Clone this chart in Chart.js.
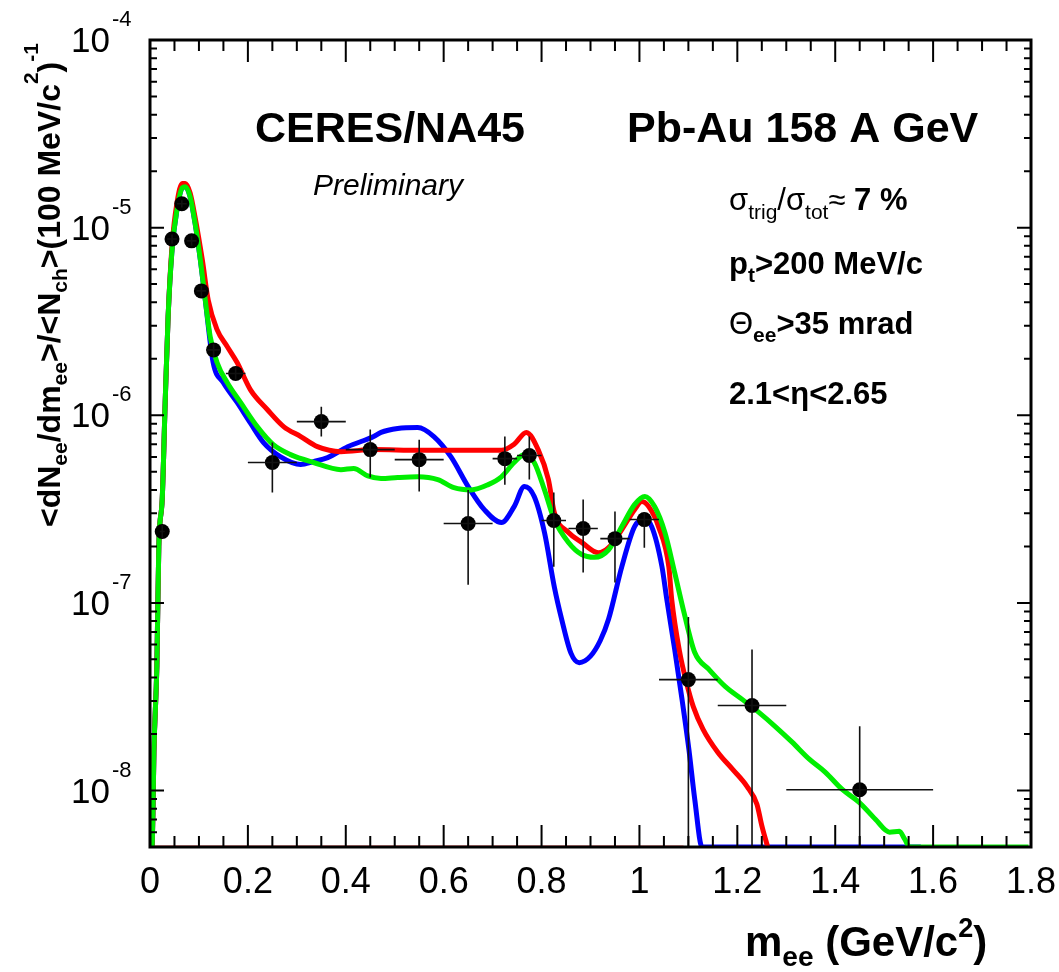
<!DOCTYPE html>
<html>
<head>
<meta charset="utf-8">
<script src="https://cdn.jsdelivr.net/npm/chart.js@4"></script>
<style>
  html, body { margin: 0; padding: 0; background: #fff; }
  #wrap { width: 1059px; height: 972px; }
</style>
</head>
<body>
<div id="wrap"><canvas id="dielectronChart" width="1059" height="972"></canvas></div>
<script>
// CERES/NA45 dielectron mass spectrum, Pb-Au 158 A GeV

const FONT = "'Liberation Sans', Arial, Helvetica, sans-serif";
const Y_MIN = 5e-9;
const Y_MAX = 1e-4;

// data points
const massBins = [0.025, 0.045, 0.065, 0.085, 0.105, 0.13, 0.175, 0.25, 0.35, 0.45, 0.55, 0.65, 0.725, 0.775, 0.825, 0.885, 0.95, 1.01, 1.10, 1.23, 1.45];
const massHalfWidth = [0.005, 0.01, 0.01, 0.01, 0.01, 0.015, 0.02, 0.05, 0.05, 0.05, 0.05, 0.05, 0.025, 0.025, 0.025, 0.03, 0.03, 0.03, 0.06, 0.07, 0.15];
const yieldData = [2.4e-7, 8.7e-6, 1.34e-5, 8.5e-6, 4.6e-6, 2.23e-6, 1.67e-6, 5.6e-7, 9.25e-7, 6.56e-7, 5.8e-7, 2.65e-7, 5.87e-7, 6.1e-7, 2.75e-7, 2.49e-7, 2.2e-7, 2.78e-7, 3.9e-8, 2.84e-8, 1.01e-8];
const yieldHigh = [2.6e-7, 9.2e-6, 1.4e-5, 9.0e-6, 4.9e-6, 2.4e-6, 1.8e-6, 7.15e-7, 1.11e-6, 8.4e-7, 7.4e-7, 4.0e-7, 7.7e-7, 7.7e-7, 3.87e-7, 3.56e-7, 3.07e-7, 3.03e-7, 8.4e-8, 5.65e-8, 2.2e-8];
const yieldLow = [2.2e-7, 8.2e-6, 1.28e-5, 8.0e-6, 4.3e-6, 2.05e-6, 1.55e-6, 3.87e-7, 7.7e-7, 4.66e-7, 3.92e-7, 1.25e-7, 4.26e-7, 4.54e-7, 1.56e-7, 1.45e-7, 1.285e-7, 1.97e-7, 5e-9, 5e-9, 5e-9];

// green curve
const greenMass = [0, 0.004, 0.006, 0.008, 0.014, 0.018, 0.025, 0.031, 0.037, 0.045, 0.055, 0.066, 0.072, 0.082, 0.092, 0.103, 0.113, 0.123, 0.137, 0.158, 0.185, 0.219, 0.252, 0.287, 0.334, 0.39, 0.416, 0.445, 0.472, 0.506, 0.547, 0.588, 0.621, 0.656, 0.691, 0.718, 0.744, 0.765, 0.785, 0.806, 0.826, 0.855, 0.882, 0.908, 0.937, 0.964, 0.99, 1.011, 1.031, 1.052, 1.072, 1.091, 1.113, 1.142, 1.175, 1.21, 1.244, 1.277, 1.312, 1.347, 1.38, 1.415, 1.449, 1.482, 1.511, 1.531, 1.542, 1.552, 1.575, 1.795];
const greenYield = [5e-9, 5e-9, 7.65e-9, 1.6e-8, 4.6e-8, 2e-7, 3.6e-7, 1.17e-6, 3.35e-6, 7.6e-6, 1.24e-5, 1.63e-5, 1.65e-5, 1.46e-5, 1.06e-5, 6.7e-6, 4.1e-6, 2.62e-6, 1.91e-6, 1.49e-6, 1.17e-6, 8.7e-7, 6.97e-7, 6.17e-7, 5.6e-7, 5.13e-7, 5.2e-7, 4.75e-7, 4.6e-7, 4.66e-7, 4.7e-7, 4.54e-7, 4.11e-7, 4.0e-7, 4.27e-7, 4.7e-7, 5.6e-7, 6.17e-7, 5.6e-7, 4.0e-7, 2.78e-7, 2.1e-7, 1.81e-7, 1.75e-7, 1.92e-7, 2.55e-7, 3.34e-7, 3.69e-7, 3.26e-7, 2.37e-7, 1.45e-7, 8.9e-8, 5.44e-8, 4.42e-8, 3.59e-8, 3.06e-8, 2.61e-8, 2.2e-8, 1.81e-8, 1.47e-8, 1.25e-8, 1.01e-8, 8.65e-9, 7.03e-9, 6.0e-9, 6.07e-9, 5.5e-9, 5e-9, 5e-9, 5e-9];

// red curve
const redMass = [0, 0.004, 0.006, 0.008, 0.014, 0.018, 0.025, 0.031, 0.037, 0.045, 0.055, 0.066, 0.072, 0.082, 0.092, 0.107, 0.119, 0.137, 0.158, 0.178, 0.205, 0.24, 0.273, 0.308, 0.342, 0.39, 0.457, 0.55, 0.65, 0.718, 0.744, 0.769, 0.793, 0.814, 0.826, 0.855, 0.882, 0.916, 0.937, 0.964, 0.99, 1.005, 1.019, 1.039, 1.06, 1.066, 1.082, 1.096, 1.11, 1.13, 1.16, 1.19, 1.22, 1.24, 1.25, 1.262];
const redYield = [5e-9, 5e-9, 7.65e-9, 1.6e-8, 4.6e-8, 2e-7, 3.6e-7, 1.17e-6, 3.35e-6, 8.0e-6, 1.35e-5, 1.72e-5, 1.72e-5, 1.53e-5, 1.14e-5, 6.7e-6, 4.1e-6, 2.86e-6, 2.32e-6, 1.91e-6, 1.37e-6, 1.07e-6, 8.7e-7, 7.7e-7, 6.8e-7, 6.4e-7, 6.56e-7, 6.5e-7, 6.5e-7, 6.5e-7, 7.0e-7, 8.1e-7, 6.56e-7, 4.54e-7, 3.03e-7, 2.37e-7, 2.1e-7, 1.85e-7, 1.97e-7, 2.46e-7, 3.14e-7, 3.47e-7, 3.26e-7, 2.55e-7, 1.56e-7, 1.04e-7, 5.5e-8, 3.77e-8, 2.8e-8, 2.12e-8, 1.6e-8, 1.3e-8, 1.05e-8, 8.45e-9, 6.5e-9, 5e-9];

// blue curve
const blueMass = [0, 0.004, 0.006, 0.008, 0.014, 0.018, 0.025, 0.031, 0.037, 0.045, 0.055, 0.066, 0.072, 0.082, 0.092, 0.103, 0.113, 0.129, 0.15, 0.178, 0.205, 0.232, 0.267, 0.308, 0.334, 0.363, 0.404, 0.457, 0.472, 0.506, 0.547, 0.58, 0.615, 0.65, 0.683, 0.718, 0.744, 0.765, 0.785, 0.806, 0.826, 0.841, 0.86, 0.877, 0.9, 0.92, 0.937, 0.964, 0.99, 1.009, 1.025, 1.046, 1.056, 1.072, 1.087, 1.101, 1.113, 1.128, 1.575];
const blueYield = [5e-9, 5e-9, 7.65e-9, 1.6e-8, 4.6e-8, 2e-7, 3.6e-7, 1.17e-6, 3.35e-6, 7.6e-6, 1.24e-5, 1.63e-5, 1.65e-5, 1.46e-5, 1.06e-5, 6.7e-6, 4.1e-6, 1.91e-6, 1.49e-6, 1.17e-6, 9.1e-7, 7.15e-7, 6.0e-7, 5.46e-7, 5.66e-7, 5.95e-7, 6.8e-7, 7.7e-7, 8.1e-7, 8.5e-7, 8.6e-7, 7.7e-7, 6.0e-7, 4.17e-7, 3.14e-7, 2.68e-7, 3.26e-7, 4.17e-7, 3.69e-7, 2.37e-7, 1.22e-7, 8.2e-8, 5.4e-8, 4.8e-8, 5.2e-8, 6.3e-8, 8.2e-8, 1.56e-7, 2.55e-7, 2.78e-7, 2.55e-7, 1.56e-7, 1.04e-7, 5.65e-8, 3.06e-8, 1.66e-8, 8.97e-9, 5e-9, 5e-9];

// faint red line lying on the lower edge
const redFloorMass = [0, 1.09];
const redFloorYield = [5e-9, 5e-9];

const yDecades = [-4, -5, -6, -7, -8];

function toPoints(xs, ys) {
    return xs.map((x, i) => ({ x: x, y: ys[i] }));
}

function drawParts(ctx, x, y, parts) {
    let cx = x;
    parts.forEach(p => {
        ctx.font = (p.style || '') + ' ' + (p.weight || 'bold') + ' ' + p.size + 'px ' + FONT;
        ctx.fillText(p.text, cx, y + (p.dy || 0));
        cx += ctx.measureText(p.text).width;
    });
    return cx;
}

const rootFrame = {
    id: 'rootFrame',
    afterDatasetsDraw(chart) {
        const ctx = chart.ctx;
        const xs = chart.scales.x, ys = chart.scales.y;
        ctx.save();
        ctx.strokeStyle = '#111';
        ctx.lineWidth = 1.6;
        ctx.beginPath();
        massBins.forEach((m, i) => {
            const px = xs.getPixelForValue(m);
            const py = ys.getPixelForValue(yieldData[i]);
            ctx.moveTo(xs.getPixelForValue(m - massHalfWidth[i]), py);
            ctx.lineTo(xs.getPixelForValue(m + massHalfWidth[i]), py);
            ctx.moveTo(px, ys.getPixelForValue(yieldHigh[i]));
            ctx.lineTo(px, ys.getPixelForValue(yieldLow[i]));
        });
        ctx.stroke();
        ctx.restore();
    },
    afterDraw(chart) {
        const ctx = chart.ctx;
        const a = chart.chartArea;
        const xs = chart.scales.x, ys = chart.scales.y;
        ctx.save();
        ctx.fillStyle = '#000';
        ctx.strokeStyle = '#000';

        // ticks pointing inwards on all four sides
        ctx.lineWidth = 2;
        ctx.beginPath();
        for (let i = 0; i <= 36; i++) {
            const px = xs.getPixelForValue(i * 0.05);
            const len = i % 4 === 0 ? 22 : 11;
            ctx.moveTo(px, a.bottom); ctx.lineTo(px, a.bottom - len);
            ctx.moveTo(px, a.top); ctx.lineTo(px, a.top + len);
        }
        for (let e = -9; e <= -5; e++) {
            for (let k = 1; k <= 9; k++) {
                const v = k * Math.pow(10, e);
                if (v < Y_MIN * 0.999 || v > Y_MAX * 1.001) continue;
                const py = ys.getPixelForValue(v);
                const len = k === 1 ? 14 : 7;
                ctx.moveTo(a.left, py); ctx.lineTo(a.left + len, py);
                ctx.moveTo(a.right, py); ctx.lineTo(a.right - len, py);
            }
        }
        ctx.stroke();

        // frame
        ctx.lineWidth = 3;
        ctx.strokeRect(a.left, a.top, a.right - a.left, a.bottom - a.top);

        // y tick labels 10^n
        yDecades.forEach(e => {
            const py = ys.getPixelForValue(Math.pow(10, e));
            ctx.textBaseline = 'alphabetic';
            ctx.textAlign = 'right';
            ctx.font = 'normal 35px ' + FONT;
            ctx.fillText('10', 110, py + 12);
            ctx.textAlign = 'left';
            ctx.font = 'normal 22px ' + FONT;
            ctx.fillText('-' + Math.abs(e), 112, py - 14);
        });

        ctx.textAlign = 'left';
        ctx.textBaseline = 'alphabetic';

        // header texts
        drawParts(ctx, 255, 142, [{ text: 'CERES/NA45', size: 43 }]);
        drawParts(ctx, 627, 142, [{ text: 'Pb-Au 158 A GeV', size: 43 }]);
        drawParts(ctx, 313, 195, [{ text: 'Preliminary', size: 30, weight: 'normal', style: 'italic' }]);

        // cuts
        drawParts(ctx, 729, 210, [
            { text: 'σ', size: 31, weight: 'normal' },
            { text: 'trig', size: 21, weight: 'normal', dy: 9 },
            { text: '/σ', size: 31, weight: 'normal' },
            { text: 'tot', size: 21, weight: 'normal', dy: 9 },
            { text: '≈', size: 31, weight: 'normal' },
            { text: ' 7 %', size: 31 }
        ]);
        drawParts(ctx, 729, 274, [
            { text: 'p', size: 31 },
            { text: 't', size: 21, dy: 8 },
            { text: '>200 MeV/c', size: 31 }
        ]);
        drawParts(ctx, 729, 334, [
            { text: 'Θ', size: 31, weight: 'normal' },
            { text: 'ee', size: 21, dy: 8 },
            { text: '>35 mrad', size: 31 }
        ]);
        drawParts(ctx, 729, 404, [{ text: '2.1<η<2.65', size: 31 }]);

        // x title
        drawParts(ctx, 745, 956, [
            { text: 'm', size: 42 },
            { text: 'ee', size: 28, dy: 10 },
            { text: ' (GeV/c', size: 42 },
            { text: '2', size: 27, dy: -19 },
            { text: ')', size: 42 }
        ]);

        // y title, rotated
        ctx.save();
        ctx.translate(60, 527);
        ctx.rotate(-Math.PI / 2);
        drawParts(ctx, 0, 0, [
            { text: '<dN', size: 32 },
            { text: 'ee', size: 21, dy: 7 },
            { text: '/dm', size: 32 },
            { text: 'ee', size: 21, dy: 7 },
            { text: '>/<N', size: 32 },
            { text: 'ch', size: 21, dy: 7 },
            { text: '>(100 MeV/c', size: 32 },
            { text: '2', size: 21, dy: -22 },
            { text: ')', size: 32 },
            { text: '-1', size: 21, dy: -22 }
        ]);
        ctx.restore();

        ctx.restore();
    }
};

const curveStyle = { pointRadius: 0, borderWidth: 5, fill: false, cubicInterpolationMode: 'monotone' };

new Chart(document.getElementById('dielectronChart').getContext('2d'), {
    type: 'line',
    data: {
        datasets: [
            {
                label: 'data',
                data: toPoints(massBins, yieldData),
                showLine: false,
                pointRadius: 7.5,
                pointBackgroundColor: '#000',
                pointBorderColor: '#000',
                pointBorderWidth: 0,
                order: 0
            },
            Object.assign({ label: 'green', data: toPoints(greenMass, greenYield), borderColor: '#00ee00', order: 1 }, curveStyle),
            Object.assign({ label: 'red', data: toPoints(redMass, redYield), borderColor: '#ff0000', order: 2 }, curveStyle),
            Object.assign({ label: 'blue', data: toPoints(blueMass, blueYield), borderColor: '#0000ff', order: 3 }, curveStyle),
            { label: 'red floor', data: toPoints(redFloorMass, redFloorYield), borderColor: 'rgba(255,0,0,0.35)', borderWidth: 4, pointRadius: 0, order: 4 }
        ]
    },
    options: {
        responsive: false,
        animation: false,
        devicePixelRatio: 1,
        layout: { padding: { left: 0, right: 28, top: 40, bottom: 0 } },
        plugins: { legend: { display: false }, tooltip: { enabled: false } },
        scales: {
            x: {
                type: 'linear',
                min: 0,
                max: 1.8,
                grid: { display: false, drawTicks: false },
                border: { display: false },
                ticks: {
                    stepSize: 0.2,
                    color: '#000',
                    padding: 14,
                    maxRotation: 0,
                    autoSkip: false,
                    font: { family: FONT, size: 36 },
                    callback: v => String(Math.round(v * 10) / 10)
                },
                afterFit: s => { s.height = 125; s.paddingLeft = 0; s.paddingRight = 0; }
            },
            y: {
                type: 'logarithmic',
                min: Y_MIN,
                max: Y_MAX,
                grid: { display: false },
                border: { display: false },
                ticks: { display: false },
                afterFit: s => { s.width = 150; s.paddingTop = 0; s.paddingBottom = 0; }
            }
        }
    },
    plugins: [rootFrame]
});
</script>
</body>
</html>
